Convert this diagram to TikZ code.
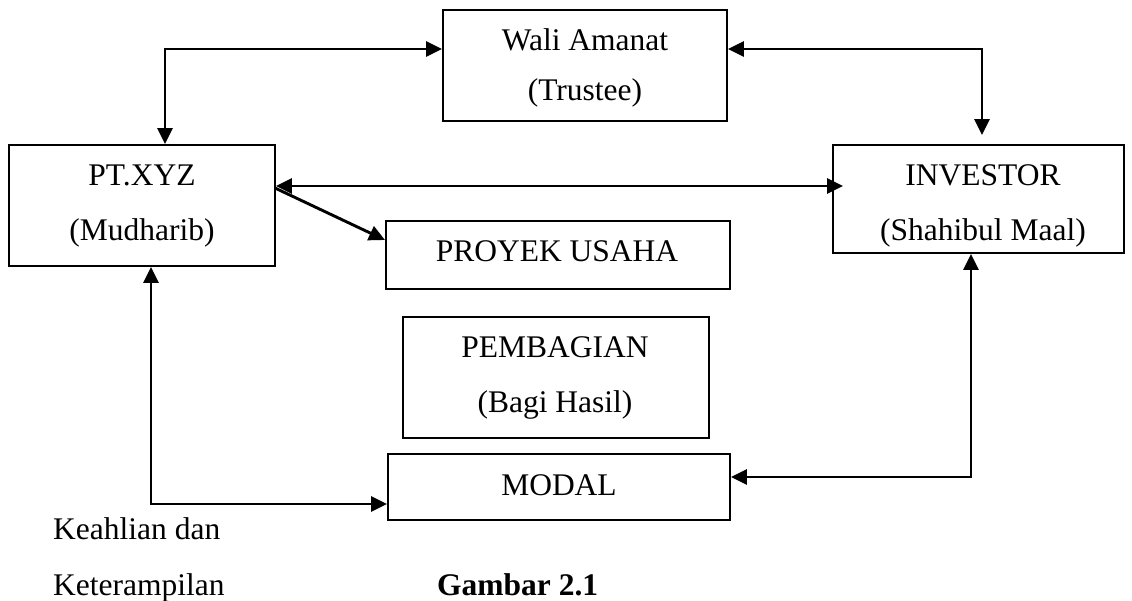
\documentclass[tikz,border=0pt]{standalone}
\usepackage{fontspec}
\setmainfont{Liberation Serif}
\usetikzlibrary{arrows.meta}
\begin{document}
\begin{tikzpicture}[x=1pt,y=-1pt,
  box/.style={draw,line width=1.8pt,rectangle,inner sep=0pt},
  lbl/.style={anchor=base,inner sep=0pt,font=\fontsize{31.5}{38}\selectfont},
  tip/.tip={Triangle[length=16pt,width=15pt]},
  conn/.style={line width=2.9pt,tip-tip},
  conn1/.style={line width=2.9pt,-tip}]
\useasboundingbox (0,0) rectangle (1132,600);
% boxes
\node[box,minimum width=284pt,minimum height=111pt] (wali) at (585,65.5) {};
\node[box,minimum width=266pt,minimum height=121pt] (pt) at (142,205.5) {};
\node[box,minimum width=291pt,minimum height=108pt] (inv) at (978.5,199) {};
\node[box,minimum width=344pt,minimum height=68pt] (proyek) at (558,255) {};
\node[box,minimum width=306pt,minimum height=121pt] (pemb) at (556,377.5) {};
\node[box,minimum width=342pt,minimum height=66pt] (modal) at (559,487) {};
% labels
\node[lbl] (waliA) at (585,50) {Wali Amanat};
\node[lbl] (waliB) at (585,100) {(Trustee)};
\node[lbl] (ptA) at (142,185) {PT.XYZ};
\node[lbl] (ptB) at (142,240) {(Mudharib)};
\node[lbl] (invA) at (983,185) {INVESTOR};
\node[lbl] (invB) at (983,240) {(Shahibul Maal)};
\node[lbl] (proyA) at (557,261) {PROYEK USAHA};
\node[lbl] (pembA) at (555,357) {PEMBAGIAN};
\node[lbl] (pembB) at (555,412) {(Bagi Hasil)};
\node[lbl] (modA) at (559,495) {MODAL};
\node[lbl,anchor=base west] (k1) at (53,539) {Keahlian dan};
\node[lbl,anchor=base west] (k2) at (53,595) {Keterampilan};
\node[lbl,anchor=base west,font=\fontsize{31.5}{38}\selectfont\bfseries] (gam) at (437,595) {Gambar 2.1};
% connector corners
\coordinate (c1) at (165,49);
\coordinate (c2) at (982,49);
\coordinate (c2b) at (982,135);
\coordinate (c3) at (843,186);
\coordinate (d0) at (275,188);
\coordinate (d1) at (385,240);
\coordinate (c5) at (151,504);
\coordinate (c6) at (971,477);
% connectors
\draw[conn] (c1 |- pt.north) -- (c1) -- (c1 -| wali.west);
\draw[conn] (c2 -| wali.east) -- (c2) -- (c2b);
\draw[conn] (c3 -| pt.east) -- (c3);
\draw[conn1] (d0) -- (d1);
\draw[conn] (c5 |- pt.south) -- (c5) -- (c5 -| modal.west);
\draw[conn] (c6 |- inv.south) -- (c6) -- (c6 -| modal.east);
\end{tikzpicture}
\end{document}
